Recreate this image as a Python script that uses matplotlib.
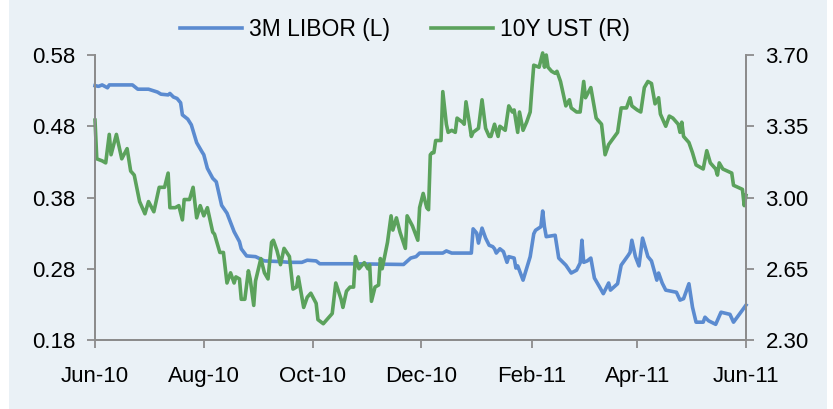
import pandas as pd
import matplotlib
matplotlib.use("Agg")
import matplotlib.pyplot as plt
import matplotlib.dates as mdates
from matplotlib.patches import Rectangle
from matplotlib.ticker import FormatStrFormatter

# values, days counted from 1 Jun 2010
start = pd.Timestamp("2010-06-01")

libor_day = [0, 2, 4, 7, 8, 21, 24, 30, 35, 37, 41, 42, 44, 46, 48, 49, 52, 54, 57, 60,
             61, 63, 66, 68, 71, 74, 78, 81, 82, 85, 90, 95, 104, 109, 116, 119, 124, 126,
             144, 173, 177, 180, 182, 195, 197, 200, 211, 212, 214, 215, 217, 219, 221,
             223, 224, 225, 227, 229, 231, 232, 235, 236, 237, 240, 244, 246, 247, 250,
             251, 252, 253, 258, 260, 264, 267, 270, 272, 273, 274, 276, 278, 280, 283,
             285, 288, 289, 293, 295, 299, 300, 301, 303, 305, 307, 310, 312, 315, 316,
             318, 320, 326, 328, 330, 333, 335, 337, 341, 342, 344, 348, 351, 356, 358,
             363, 365]
libor_val = [0.537, 0.536, 0.538, 0.534, 0.538, 0.538, 0.532, 0.532, 0.528, 0.525, 0.524,
             0.526, 0.521, 0.519, 0.513, 0.496, 0.490, 0.482, 0.457, 0.444, 0.440, 0.421,
             0.407, 0.402, 0.369, 0.358, 0.332, 0.318, 0.308, 0.298, 0.297, 0.291, 0.290,
             0.289, 0.289, 0.292, 0.291, 0.287, 0.287, 0.286, 0.295, 0.297, 0.302, 0.302,
             0.305, 0.302, 0.302, 0.336, 0.330, 0.316, 0.337, 0.323, 0.313, 0.311, 0.308,
             0.302, 0.308, 0.304, 0.289, 0.297, 0.295, 0.281, 0.284, 0.264, 0.297, 0.329,
             0.334, 0.339, 0.361, 0.339, 0.325, 0.327, 0.295, 0.285, 0.274, 0.278, 0.288,
             0.320, 0.289, 0.291, 0.295, 0.267, 0.254, 0.245, 0.260, 0.250, 0.259, 0.285,
             0.299, 0.303, 0.320, 0.297, 0.284, 0.323, 0.297, 0.291, 0.264, 0.274, 0.260,
             0.250, 0.247, 0.236, 0.238, 0.259, 0.226, 0.205, 0.205, 0.212, 0.207, 0.202,
             0.219, 0.216, 0.205, 0.222, 0.229]

ust_day = [0, 1, 4, 6, 8, 9, 12, 15, 18, 20, 22, 25, 28, 30, 33, 36, 39, 41, 42, 45, 47,
           49, 50, 53, 55, 57, 59, 61, 63, 66, 67, 70, 72, 74, 76, 78, 79, 81, 82, 84, 86,
           87, 89, 90, 93, 95, 97, 99, 100, 102, 104, 106, 109, 111, 113, 114, 117, 119,
           121, 124, 125, 128, 131, 133, 135, 138, 139, 141, 143, 145, 146, 148, 149, 151,
           153, 154, 155, 157, 159, 160, 161, 164, 166, 167, 169, 171, 174, 175, 178, 181,
           182, 184, 186, 187, 188, 189, 190, 191, 194, 195, 197, 198, 200, 202, 203, 206,
           207, 208, 210, 211, 212, 215, 217, 219, 221, 222, 224, 226, 227, 230, 232, 234,
           235, 237, 238, 240, 242, 244, 245, 246, 249, 251, 252, 253, 254, 256, 258, 259,
           261, 264, 266, 267, 270, 272, 274, 275, 278, 281, 284, 286, 288, 293, 295, 298,
           300, 301, 304, 306, 308, 310, 312, 314, 316, 317, 320, 322, 324, 327, 328, 329,
           330, 333, 335, 337, 341, 343, 345, 348, 349, 350, 352, 357, 358, 363, 364, 365]
ust_val = [3.38, 3.19, 3.18, 3.17, 3.31, 3.21, 3.31, 3.19, 3.24, 3.13, 3.11, 2.98, 2.92,
           2.98, 2.93, 3.05, 3.05, 3.12, 2.95, 2.95, 2.96, 2.89, 2.99, 2.99, 3.05, 2.90,
           2.96, 2.91, 2.95, 2.83, 2.82, 2.73, 2.73, 2.58, 2.63, 2.58, 2.61, 2.60, 2.50,
           2.50, 2.64, 2.60, 2.47, 2.59, 2.70, 2.63, 2.60, 2.78, 2.79, 2.74, 2.67, 2.75,
           2.71, 2.55, 2.56, 2.61, 2.46, 2.51, 2.53, 2.48, 2.40, 2.38, 2.41, 2.43, 2.58,
           2.50, 2.46, 2.54, 2.56, 2.56, 2.71, 2.65, 2.66, 2.68, 2.65, 2.67, 2.49, 2.56,
           2.57, 2.70, 2.65, 2.78, 2.91, 2.84, 2.90, 2.83, 2.75, 2.91, 2.86, 2.79, 2.95,
           3.02, 2.95, 2.94, 3.21, 3.22, 3.22, 3.28, 3.28, 3.52, 3.36, 3.32, 3.33, 3.32,
           3.39, 3.37, 3.36, 3.47, 3.36, 3.30, 3.32, 3.34, 3.48, 3.34, 3.30, 3.30, 3.36,
           3.30, 3.35, 3.33, 3.45, 3.42, 3.43, 3.32, 3.42, 3.33, 3.37, 3.42, 3.54, 3.65,
           3.64, 3.71, 3.64, 3.70, 3.64, 3.62, 3.61, 3.62, 3.57, 3.45, 3.48, 3.44, 3.42,
           3.42, 3.57, 3.49, 3.54, 3.39, 3.36, 3.21, 3.26, 3.32, 3.44, 3.44, 3.49, 3.45,
           3.43, 3.42, 3.54, 3.57, 3.56, 3.46, 3.49, 3.41, 3.35, 3.40, 3.39, 3.36, 3.32,
           3.37, 3.30, 3.27, 3.22, 3.16, 3.14, 3.23, 3.17, 3.14, 3.11, 3.17, 3.14, 3.12,
           3.06, 3.04, 2.96, 3.01]

left_ticks = [0.18, 0.28, 0.38, 0.48, 0.58]
right_ticks = [2.30, 2.65, 3.00, 3.35, 3.70]

libor_dates = start + pd.to_timedelta(libor_day, unit="D")
ust_dates = start + pd.to_timedelta(ust_day, unit="D")

bg = "#EAF1F6"
blue = "#5B8BD0"
green = "#5BA25C"
grey = "#8C8C8C"

plt.rcParams["font.family"] = ["Liberation Sans", "DejaVu Sans"]
plt.rcParams["font.size"] = 16

fig = plt.figure(figsize=(8.33, 4.09), dpi=100, facecolor="white")
fig.patches.append(Rectangle((9 / 833, 0), 818 / 833, 1, transform=fig.transFigure,
                             facecolor=bg, edgecolor="none", zorder=-10))
ax = fig.add_axes([95 / 833, 1 - 340 / 409, 651 / 833, 285 / 409])
ax.set_facecolor("none")
ax2 = ax.twinx()

l1, = ax.plot(libor_dates, libor_val, color=blue, lw=2.6, label="3M LIBOR (L)",
              clip_on=False)
l2, = ax2.plot(ust_dates, ust_val, color=green, lw=2.6, label="10Y UST (R)",
               clip_on=False)

ax.set_xlim(pd.Timestamp("2010-06-01"), pd.Timestamp("2011-06-01"))
ax.set_ylim(0.18, 0.58)
ax2.set_ylim(2.30, 3.70)
ax.set_yticks(left_ticks)
ax2.set_yticks(right_ticks)
ax.yaxis.set_major_formatter(FormatStrFormatter("%.2f"))
ax2.yaxis.set_major_formatter(FormatStrFormatter("%.2f"))

xt = pd.to_datetime(["2010-06-01", "2010-08-01", "2010-10-01", "2010-12-01",
                     "2011-02-01", "2011-04-01", "2011-06-01"])
ax.set_xticks(xt)
ax.xaxis.set_major_formatter(mdates.DateFormatter("%b-%y"))

for a in (ax, ax2):
    a.spines["top"].set_visible(False)
    for s in ("left", "right", "bottom"):
        a.spines[s].set_color(grey)
        a.spines[s].set_linewidth(1.3)
    a.tick_params(colors=grey, labelcolor="black", length=6, width=1.3)
ax.tick_params(axis="y", pad=8)
ax2.tick_params(axis="y", pad=8)
ax.tick_params(axis="x", pad=13)

fig.legend(handles=[l1, l2], loc="center", bbox_to_anchor=(0.486, 0.927), ncol=2,
           frameon=False, handlelength=2.7, handletextpad=0.3, columnspacing=1.8,
           fontsize=16.5)

fig.savefig("out.png", dpi=100, facecolor=fig.get_facecolor())
